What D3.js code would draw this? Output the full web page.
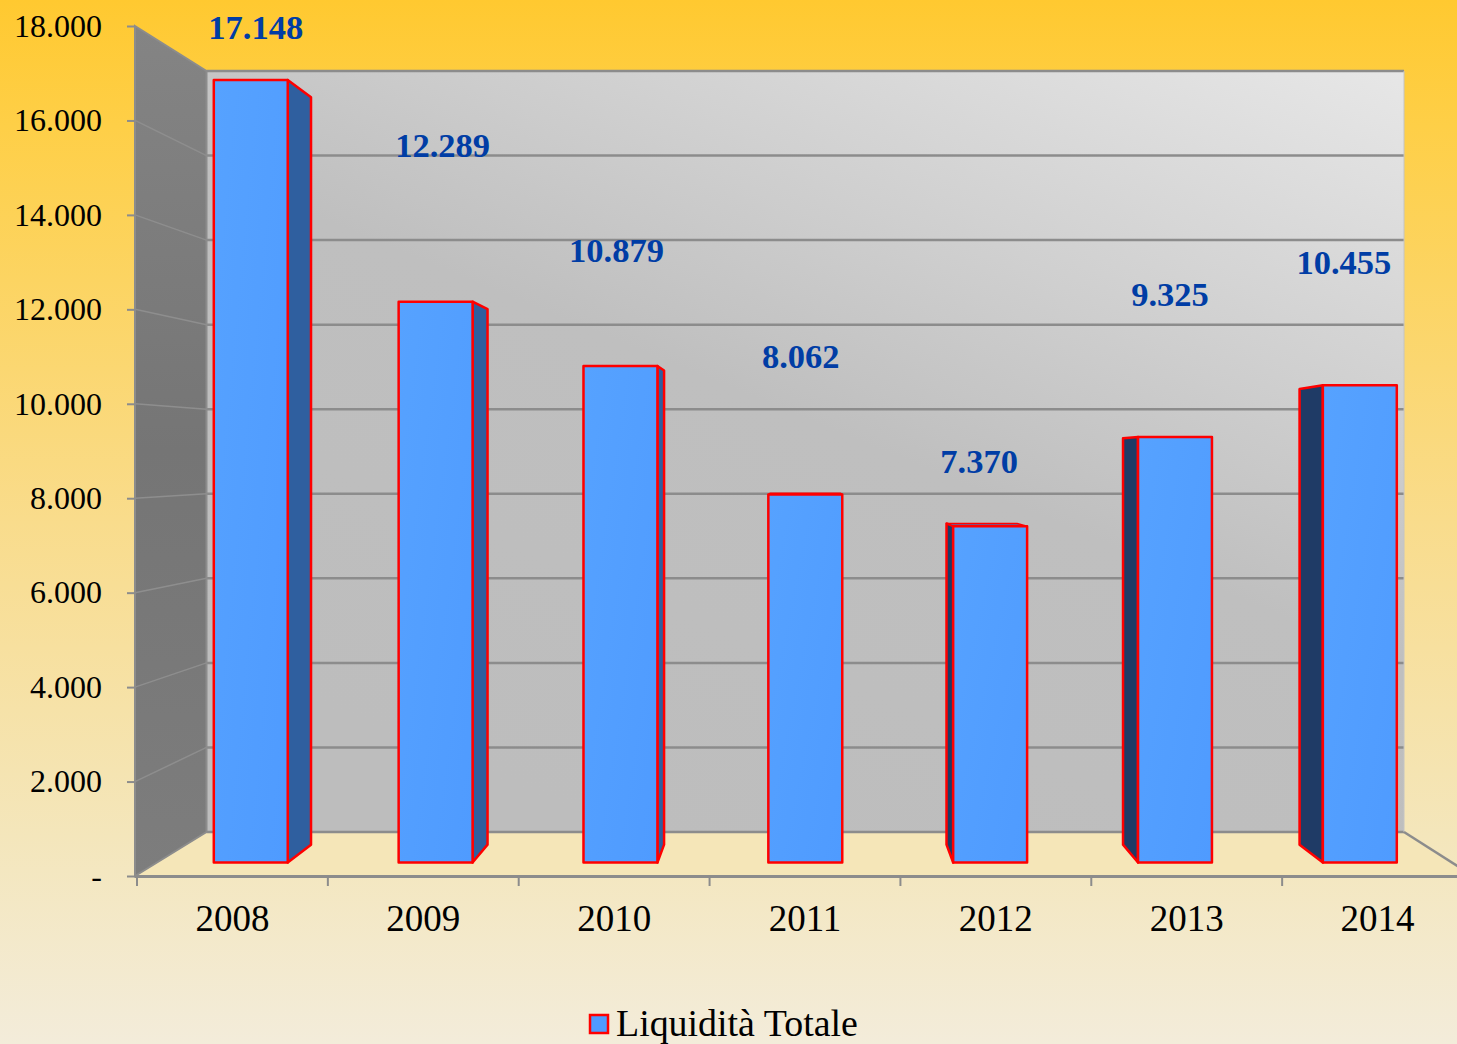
<!DOCTYPE html>
<html><head><meta charset="utf-8">
<script src="https://cdn.jsdelivr.net/npm/d3@7/dist/d3.min.js"></script>
<style>html,body{margin:0;padding:0;background:#f3ecd9;overflow:hidden}svg{display:block}text{font-family:"Liberation Serif","Times New Roman",serif}</style>
</head><body><svg id="c" width="1457" height="1044"></svg>
<script>
const years = ["2008","2009","2010","2011","2012","2013","2014"];
const liquidita = [17148,12289,10879,8062,7370,9325,10455];
const valueLabels = ["17.148","12.289","10.879","8.062","7.370","9.325","10.455"];
const yTicks = [0,2000,4000,6000,8000,10000,12000,14000,16000,18000];
const seriesName = "Liquidità Totale";

const W=1457,H=1044;
const svg=d3.select("#c");
const defs=svg.append("defs");
function grad(id,a,stops){const g=defs.append("linearGradient").attr("id",id).attr("x1",a[0]).attr("y1",a[1]).attr("x2",a[2]).attr("y2",a[3]);
 stops.forEach(s=>g.append("stop").attr("offset",s[0]).attr("stop-color",s[1]));}
grad("bg",[0,0,0,1],[[0,"#ffc930"],[.12,"#fecf47"],[.5,"#f9dc8c"],[.8,"#f4e6bb"],[1,"#f3ecda"]]);
grad("wall",[1,0,0.35,1],[[0,"#e7e7e7"],[.55,"#bfbfbf"],[1,"#bdbdbd"]]);
grad("side",[0,0,0,1],[[0,"#848484"],[.5,"#757575"],[1,"#7d7d7d"]]);
grad("bar",[0,0,1,1],[[0,"#56a2ff"],[1,"#4f9bff"]]);

svg.append("rect").attr("width",W).attr("height",H).attr("fill","url(#bg)");

// Scales: front plane (axes), back wall, bar plane
const yFront=d3.scaleLinear().domain([0,18000]).range([876,26]);
const yBack=d3.scaleLinear().domain([0,18000]).range([832,71]);
const yBar=d3.scaleLinear().domain([0,18000]).range([862.5,41]);
const xAxisBand=d3.scaleBand().domain(years).range([137,1473]);
const xBar=d3.scaleBand().domain(years).range([213.8,1396.8]).paddingInner(.6).paddingOuter(0);
const wallL=206.5,wallR=1404,axisL=135,axisR=xAxisBand.range()[1];
const line=d3.line();

// floor
svg.append("path").attr("d",line([[axisL,yFront(0)],[wallL,yBack(0)],[wallR,yBack(0)],[axisR,yFront(0)]])+"Z").attr("fill","#f5e6b8");
// back wall
svg.append("rect").attr("x",wallL).attr("y",yBack(18000)).attr("width",wallR-wallL).attr("height",yBack(0)-yBack(18000)).attr("fill","url(#wall)");
// side wall
svg.append("path").attr("d",line([[axisL,yFront(18000)],[wallL,yBack(18000)],[wallL,yBack(0)],[axisL,yFront(0)]])+"Z").attr("fill","url(#side)").attr("stroke","#8c8c8c").attr("stroke-width",2);
// grid
svg.append("g").selectAll("path").data(yTicks).join("path")
 .attr("d",d=>line([[wallL,yBack(d)],[wallR,yBack(d)]])).attr("stroke","#8c8c8c").attr("stroke-width",2.5).attr("fill","none");
svg.append("g").selectAll("path").data(yTicks.slice(1,-1)).join("path")
 .attr("d",d=>line([[axisL,yFront(d)],[wallL,yBack(d)]])).attr("stroke","#8e8e8e").attr("stroke-width",1.5).attr("fill","none");
svg.append("path").attr("d",line([[wallR,yBack(18000)],[wallR,yBack(0)]])).attr("stroke","#c4c4c4").attr("stroke-width",1);
svg.append("path").attr("d",line([[wallR,yBack(0)],[axisR,yFront(0)]])).attr("stroke","#8c8c8c").attr("stroke-width",2.5).attr("fill","none");

// y axis
const fmt=d3.formatLocale({decimal:",",thousands:".",grouping:[3],currency:["","€"]}).format(",");
const yAxis=d3.axisLeft(yFront).tickValues(yTicks).tickSize(8).tickPadding(25).tickFormat(d=>d===0?"-":fmt(d));
const gy=svg.append("g").attr("transform",`translate(${axisL},0)`).call(yAxis);
gy.select(".domain").remove();
gy.selectAll("line").attr("stroke","#8c8c8c").attr("stroke-width",2);
gy.selectAll("text").attr("font-size",32).attr("fill","#000");

// x axis
const xAxis=d3.axisBottom(xAxisBand).tickSize(0).tickPadding(28.5);
const gx=svg.append("g").attr("transform",`translate(0,${yFront(0)})`).call(xAxis);
gx.select(".domain").remove();
gx.selectAll("text").attr("font-size",37).attr("fill","#000");
svg.append("path").attr("d",line([[axisL,yFront(0)+.5],[axisR,yFront(0)+.5]])).attr("stroke","#8c8c8c").attr("stroke-width",3);
svg.append("g").selectAll("path").data(years.concat(["end"])).join("path")
 .attr("d",(d,i)=>{const x=xAxisBand.range()[0]+i*xAxisBand.step();return line([[x,yFront(0)],[x,yFront(0)+10]]);})
 .attr("stroke","#8c8c8c").attr("stroke-width",2);

// bars with perspective depth toward the vanishing point
const vp=[805,466],k=.955;
const back=([x,y])=>[vp[0]+(x-vp[0])*k,vp[1]+(y-vp[1])*k];
const RED="#ff0000";
const gb=svg.append("g").attr("stroke",RED).attr("stroke-width",2.5).attr("stroke-linejoin","round");
years.forEach((yr,i)=>{
 const x0=xBar(yr),x1=x0+xBar.bandwidth(),t=yBar(liquidita[i]),b=yBar(0);
 const cx=(x0+x1)/2;
 // side face
 const sx=cx<vp[0]?x1:x0;
 const dist=Math.abs(cx-vp[0]);
 if(dist>10){
  const fill=cx<vp[0]?"#2f5f9f":"#1f3b66";
  gb.append("path").attr("d",line([[sx,t],back([sx,t]),back([sx,b]),[sx,b]])+"Z").attr("fill",fill);
 }
 // top face (visible only below eye level)
 if(t>vp[1]){
  gb.append("path").attr("d",line([[x0,t],back([x0,t]),back([x1,t]),[x1,t]])+"Z").attr("fill","#5b6aa8").attr("stroke-width",1.5);
 }
 gb.append("rect").attr("x",x0).attr("y",t).attr("width",x1-x0).attr("height",b-t).attr("fill","url(#bar)");
});

// hand-placed data labels (offsets from each bar's top centre)
const labelDX=[5,7,-4,-4.5,-11,-5,-16], labelDY=[-41,-145,-104,-127,-53,-131,-111];
svg.append("g").selectAll("text").data(years).join("text")
 .attr("x",(d,i)=>xBar(d)+xBar.bandwidth()/2+labelDX[i])
 .attr("y",(d,i)=>yBar(liquidita[i])+labelDY[i])
 .attr("text-anchor","middle").attr("font-size",34.5).attr("font-weight","bold").attr("fill","#003da5")
 .text((d,i)=>valueLabels[i]);

// legend
svg.append("rect").attr("x",590).attr("y",1015).attr("width",18).attr("height",18).attr("fill","#4f9bff").attr("stroke",RED).attr("stroke-width",2.5);
svg.append("text").attr("x",616).attr("y",1036).attr("font-size",37.9).attr("fill","#000").text(seriesName);
</script></body></html>
